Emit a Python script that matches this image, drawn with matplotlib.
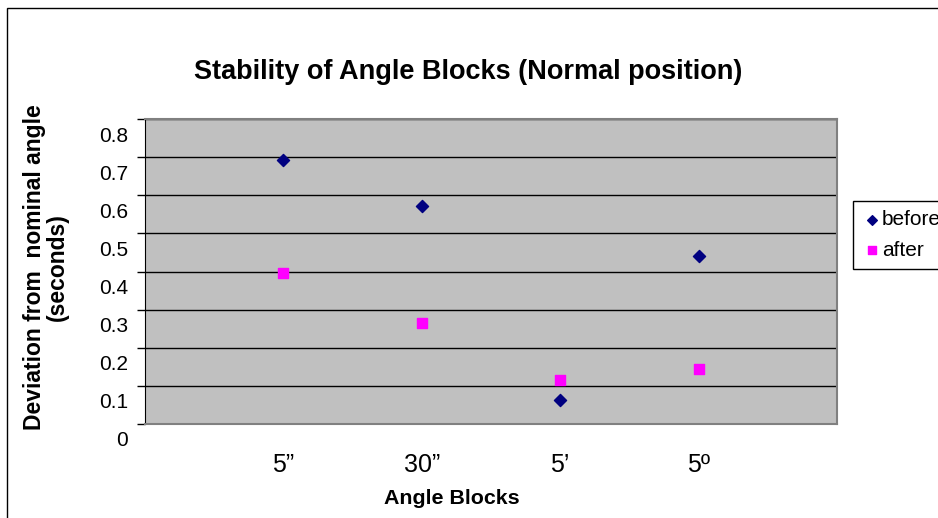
import matplotlib
matplotlib.use('Agg')
import matplotlib.pyplot as plt
import matplotlib.transforms as mtransforms
from matplotlib.patches import Rectangle

plt.rcParams['font.family'] = ['Liberation Sans', 'DejaVu Sans']

# data
blocks = ['5\u201d', '30\u201d', '5\u2019', '5\u00ba']
before = [0.692, 0.572, 0.063, 0.441]
after = [0.396, 0.265, 0.115, 0.144]
y_ticks = [0, 0.1, 0.2, 0.3, 0.4, 0.5, 0.6, 0.7, 0.8]

W, H = 938, 518
fig = plt.figure(figsize=(W / 100, H / 100), dpi=100)
ax = fig.add_axes([145 / W, 1 - 424 / H, 692 / W, 305 / H])
ax.set_facecolor('#c0c0c0')

x = list(range(1, len(blocks) + 1))
ax.scatter(x, before, marker='D', s=38, color='#000080', label='before', zorder=3)
ax.scatter(x, after, marker='s', s=55, color='#ff00ff', label='after', zorder=3)

ax.set_xlim(0, 5)
ax.set_ylim(0, 0.8)
ax.set_xticks(x)
ax.set_xticklabels(blocks, fontsize=18)
ax.tick_params(axis='x', length=0, pad=21)
ax.set_yticks(y_ticks)
ax.set_yticklabels(['0' if v == 0 else f'{v:.1f}' for v in y_ticks], fontsize=15)
ax.tick_params(axis='y', length=6, width=1, direction='out', pad=6)
# excel draws the value labels half a step below the gridlines
shift = mtransforms.ScaledTranslation(0, -15 / 100, fig.dpi_scale_trans)
for lab in ax.get_yticklabels():
    lab.set_transform(lab.get_transform() + shift)

ax.grid(axis='y', color='black', linewidth=1)
ax.set_axisbelow(True)
for side in ['top', 'right', 'bottom']:
    ax.spines[side].set_color('#808080')
    ax.spines[side].set_linewidth(1.5)
ax.spines['left'].set_color('black')

fig.text(468 / W, 1 - 72 / H, 'Stability of Angle Blocks (Normal position)',
         fontsize=19.5, fontweight='bold', ha='center', va='center')
fig.text(452 / W, 1 - 499 / H, 'Angle Blocks', fontsize=15.4, fontweight='bold',
         ha='center', va='center')
fig.text(46 / W, 1 - 267 / H, 'Deviation from  nominal angle\n(seconds)', fontsize=16.5,
         fontweight='bold', rotation=90, ha='center', va='center', multialignment='center',
         linespacing=0.95)

leg = fig.legend(loc='upper left', bbox_to_anchor=(853 / W, 1 - 201 / H), fontsize=15,
                 frameon=True, fancybox=False, edgecolor='black', framealpha=1,
                 handletextpad=0.05, handlelength=0.9, borderpad=0.45, labelspacing=0.55,
                 markerscale=0.8, borderaxespad=0)
leg.get_frame().set_linewidth(1)

fig.patches.append(Rectangle((7 / W, -0.1), 1.2, 1 - 8 / H + 0.1, transform=fig.transFigure,
                             fill=False, edgecolor='black', linewidth=1))

fig.savefig('out.png', dpi=100)
